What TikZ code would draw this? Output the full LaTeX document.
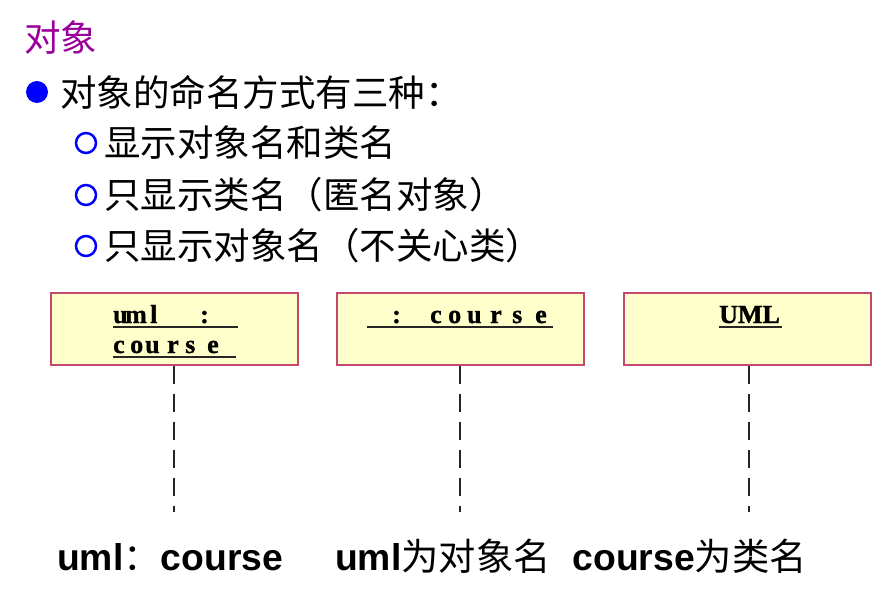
\documentclass[tikz,border=0pt]{standalone}
\usepackage{fontspec}
\newfontfamily\cjk{Noto Sans CJK SC}
\newfontfamily\latb{Liberation Sans}[BoldFont={Liberation Sans Bold}]
\newfontfamily\serb{Liberation Serif Bold}[FakeBold=1.2]
\newcommand{\cellw}[2]{\makebox[#1pt][l]{#2}}
\definecolor{titlepurple}{RGB}{153,0,153}
\definecolor{bulletblue}{RGB}{0,0,255}
\definecolor{boxfill}{RGB}{255,255,204}
\definecolor{boxline}{RGB}{196,72,110}
\tikzset{
  cjktext/.style={anchor=west, inner sep=0pt, font=\cjk\fontsize{36.5}{36.5}\selectfont},
  fulldot/.style={circle, fill=bulletblue, minimum size=22pt, inner sep=0pt},
  ringdot/.style={circle, draw=bulletblue, line width=2.5pt, minimum size=20pt, inner sep=0pt},
  objbox/.style={draw=boxline, fill=boxfill, line width=1.6pt, minimum width=247pt, minimum height=72pt, anchor=north west, inner sep=0pt},
  objtext/.style={anchor=base west, inner sep=0pt, font=\serb\fontsize{26}{26}\selectfont},
  uline/.style={line width=1.3pt, black!85},
  lifeline/.style={line width=1.3pt, black!85, dash pattern=on 18pt off 10pt}
}
\begin{document}
\begin{tikzpicture}[x=1pt,y=-1pt]
\useasboundingbox (0,0) rectangle (893,601);
% header texts
\node[cjktext, text=titlepurple] (title) at (24,38) {对象};
\node[fulldot] (b0) at (37,92) {};
\node[cjktext] (l0) at (60,92) {对象的命名方式有三种：};
\node[ringdot] (c1) at (86,143) {};
\node[cjktext] (l1) at (104,143) {显示对象名和类名};
\node[ringdot] (c2) at (86,195) {};
\node[cjktext] (l2) at (104,195) {只显示类名（匿名对象）};
\node[ringdot] (c3) at (86,246) {};
\node[cjktext] (l3) at (104,246) {只显示对象名（不关心类）};
% object boxes
\node[objbox] (o1) at (50,292) {};
\node[objbox] (o2) at (336,292) {};
\node[objbox] (o3) at (623,292) {};
% box 1 text
\node[objtext] (o1a) at (113,323) {\cellw{12}{u}\cellw{25}{m}\cellw{50}{l}\cellw{38}{:}};
\node[objtext] (o1b) at (113,353) {\cellw{17}{c}\cellw{15}{o}\cellw{22}{u}\cellw{18}{r}\cellw{22}{s}\cellw{29}{e}};
\draw[uline] ([yshift=-4pt]o1a.base west) -- ([yshift=-4pt]o1a.base east);
\draw[uline] ([yshift=-4pt]o1b.base west) -- ([yshift=-4pt]o1b.base east);
% box 2 text
\node[objtext] (o2a) at (367,323) {\hspace{25pt}\cellw{38}{:}\cellw{18}{c}\cellw{19}{o}\cellw{23}{u}\cellw{22}{r}\cellw{23}{s}\cellw{18}{e}};
\draw[uline] ([yshift=-4pt]o2a.base west) -- ([yshift=-4pt]o2a.base east);
% box 3 text
\node[objtext] (o3a) at (719,323) {\cellw{63}{UML}};
\draw[uline] ([yshift=-4pt]o3a.base west) -- ([yshift=-4pt]o3a.base east);
% lifelines
\coordinate (e1) at (174,512);
\coordinate (e2) at (460,512);
\coordinate (e3) at (749,512);
\draw[lifeline] (o1.south -| e1) -- (e1);
\draw[lifeline] (o2.south -| e2) -- (e2);
\draw[lifeline] (o3.south -| e3) -- (e3);
% bottom caption
\node[anchor=base west, inner sep=0pt] (cap) at (57,570)
  {\fontsize{37.3}{37.3}\selectfont\latb\bfseries uml{\cjk\mdseries ：}course\hspace{52pt}uml{\cjk\mdseries 为对象名}\hspace{22pt}course{\cjk\mdseries 为类名}};
\end{tikzpicture}
\end{document}
